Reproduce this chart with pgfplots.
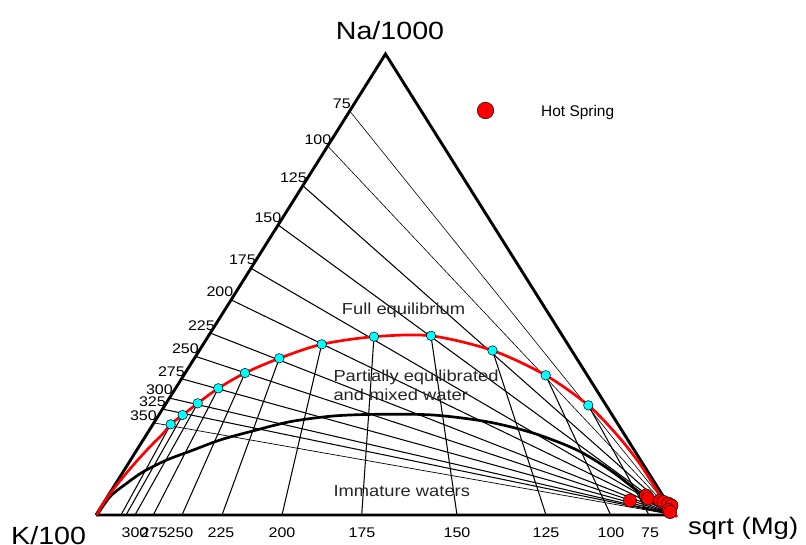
\documentclass[border=0pt]{standalone}
\usepackage{pgfplots}
\pgfplotsset{compat=1.18}
\usepackage{fontspec}
\setmainfont{Liberation Sans}[FakeStretch=1.15]
\newfontfamily\plainfont{Liberation Sans}
\definecolor{aqua}{RGB}{0,255,255}
\definecolor{hsred}{RGB}{255,0,0}
\tikzset{
  iso/.style={black,line width=1.05pt},
  ll/.style={anchor=base east,inner sep=0pt,font=\fontsize{14}{16}\selectfont},
  bl/.style={anchor=base,inner sep=0pt,font=\fontsize{14}{16}\selectfont},
  rl/.style={anchor=base west,inner sep=0pt,font=\fontsize{16}{18}\selectfont,text=black!85}
}
\begin{document}
\begin{tikzpicture}
\begin{axis}[width=806bp,height=544bp,scale only axis,
  xmin=0,xmax=806,ymin=0,ymax=544,y dir=reverse,
  axis lines=none,clip=false]
\path (axis cs:0,0) rectangle (axis cs:806,544);
% K-Na isotherms (left edge to Mg corner)
\addplot[iso,no marks,line width=0.6pt] coordinates {(349.7,111) (675,515)};
\addplot[iso,no marks,line width=0.6pt] coordinates {(327.7,146) (675,515)};
\addplot[iso,no marks] coordinates {(302.8,185.7) (675,515)};
\addplot[iso,no marks] coordinates {(278.2,225) (675,515)};
\addplot[iso,no marks] coordinates {(251,268.3) (675,515)};
\addplot[iso,no marks] coordinates {(231.4,300) (675,515)};
\addplot[iso,no marks] coordinates {(210.9,333.3) (675,515)};
\addplot[iso,no marks] coordinates {(196.5,356.7) (675,515)};
\addplot[iso,no marks] coordinates {(182.5,379) (675,515)};
\addplot[iso,no marks] coordinates {(170.4,398.3) (675,515)};
\addplot[iso,no marks] coordinates {(163.5,409.3) (675,515)};
\addplot[iso,no marks,line width=0.7pt] coordinates {(154.6,423) (675,515)};
% K-Mg isotherms (equilibrium point to base)
\addplot[iso,no marks] coordinates {(170.7,424.3) (121,515)};
\addplot[iso,no marks] coordinates {(182.7,415) (126,515)};
\addplot[iso,no marks] coordinates {(197.7,403.3) (135,515)};
\addplot[iso,no marks] coordinates {(218.3,388.3) (153.3,515)};
\addplot[iso,no marks] coordinates {(245,373) (182,515)};
\addplot[iso,no marks] coordinates {(279.3,358.3) (222,515)};
\addplot[iso,no marks] coordinates {(321.7,344.3) (282,515)};
\addplot[iso,no marks] coordinates {(374,336.7) (361.7,515)};
\addplot[iso,no marks] coordinates {(431,335.8) (457,515)};
\addplot[iso,no marks] coordinates {(492.5,350.5) (546,515)};
\addplot[iso,no marks] coordinates {(545.7,375.3) (610.7,515)};
\addplot[iso,no marks] coordinates {(588.3,405.3) (649,515)};
% triangle
\addplot[black,line width=2.9pt,no marks,line join=miter] coordinates {(96,515) (385.5,54) (675,515) (96,515)};
% immature water boundary
\addplot[black,line width=2.7pt,no marks,smooth,tension=0.5] coordinates {
(96.7,515.7) (110,496.7) (126.7,483.3) (143.3,471.7) (166.7,460) (193.3,450) (220,440) (250,431.7) (290,421.7) (333,416) (377,414.3) (433,415) (487,421.7) (533,433) (577,450) (610,470) (635,489) (658,505) (673,514)};
% full equilibrium curve
\addplot[hsred,line width=2.7pt,no marks,smooth,tension=0.5] coordinates {
(97,515) (103.3,503.3) (116.7,485) (133.3,465) (150,446.7) (163.3,433.3) (170.7,424.3) (182.7,415) (197.7,403.3) (218.3,388.3) (245,373) (279.3,358.3) (321.7,344.3) (374,336.7) (431,335.8) (492.5,350.5) (545.7,375.3) (588.3,405.3) (618,436) (640,464) (660,495) (677,517)};
% equilibrium points
\addplot[only marks,mark=*,mark size=4.8pt,mark options={fill=aqua,draw=black,line width=0.5pt}] coordinates {
(170.7,424.3) (182.7,415) (197.7,403.3) (218.3,388.3) (245,373) (279.3,358.3) (321.7,344.3) (374,336.7) (431,335.8) (492.5,350.5) (545.7,375.3) (588.3,405.3)};
% hot springs
\addplot[only marks,mark=*,mark size=6.6pt,mark options={fill=hsred,draw=black,line width=0.5pt}] coordinates {
(630,500.5) (646,495.5) (648,498.5) (660,500.5) (663.5,502) (668,503.5) (671.5,505.5) (668.5,510) (670,512)};
% legend
\addplot[only marks,mark=*,mark size=8.3pt,mark options={fill=hsred,draw=black,line width=0.5pt}] coordinates {(485.5,110.5)};
\node[anchor=base west,inner sep=0pt,font=\plainfont\fontsize{15.5}{18}\selectfont] at (axis cs:541,116.5) {Hot Spring};
% titles
\node[anchor=base,inner sep=0pt,font=\fontsize{25}{30}\selectfont] at (axis cs:390,39.5) {Na/1000};
\node[anchor=base west,inner sep=0pt,font=\fontsize{25}{30}\selectfont] at (axis cs:11,544) {K/100};
\node[anchor=base west,inner sep=0pt,font=\fontsize{24}{30}\selectfont] at (axis cs:688,534) {sqrt (Mg)};
% left labels
\node[ll] at (axis cs:351,108) {75};
\node[ll] at (axis cs:331.5,144) {100};
\node[ll] at (axis cs:307,182) {125};
\node[ll] at (axis cs:281.5,222) {150};
\node[ll] at (axis cs:256,264.5) {175};
\node[ll] at (axis cs:233.5,296) {200};
\node[ll] at (axis cs:215,330) {225};
\node[ll] at (axis cs:199,353.5) {250};
\node[ll] at (axis cs:185,376) {275};
\node[ll] at (axis cs:173,394.5) {300};
\node[ll] at (axis cs:166,406.5) {325};
\node[ll] at (axis cs:157,420) {350};
% bottom labels
\node[bl] at (axis cs:135,537.7) {300};
\node[bl] at (axis cs:154,537.7) {275};
\node[bl] at (axis cs:180,537.7) {250};
\node[bl] at (axis cs:221,537.7) {225};
\node[bl] at (axis cs:282,537.7) {200};
\node[bl] at (axis cs:362,537.7) {175};
\node[bl] at (axis cs:457,537.7) {150};
\node[bl] at (axis cs:546,537.7) {125};
\node[bl] at (axis cs:611,537.7) {100};
\node[bl] at (axis cs:650,537.7) {75};
% region labels
\node[rl] at (axis cs:341.7,314.3) {Full equilibrium};
\node[rl] at (axis cs:333.3,381.7) {Partially equilibrated};
\node[rl] at (axis cs:333.3,400) {and mixed water};
\node[rl] at (axis cs:333.3,496.7) {Immature waters};
\end{axis}
\end{tikzpicture}
\end{document}
